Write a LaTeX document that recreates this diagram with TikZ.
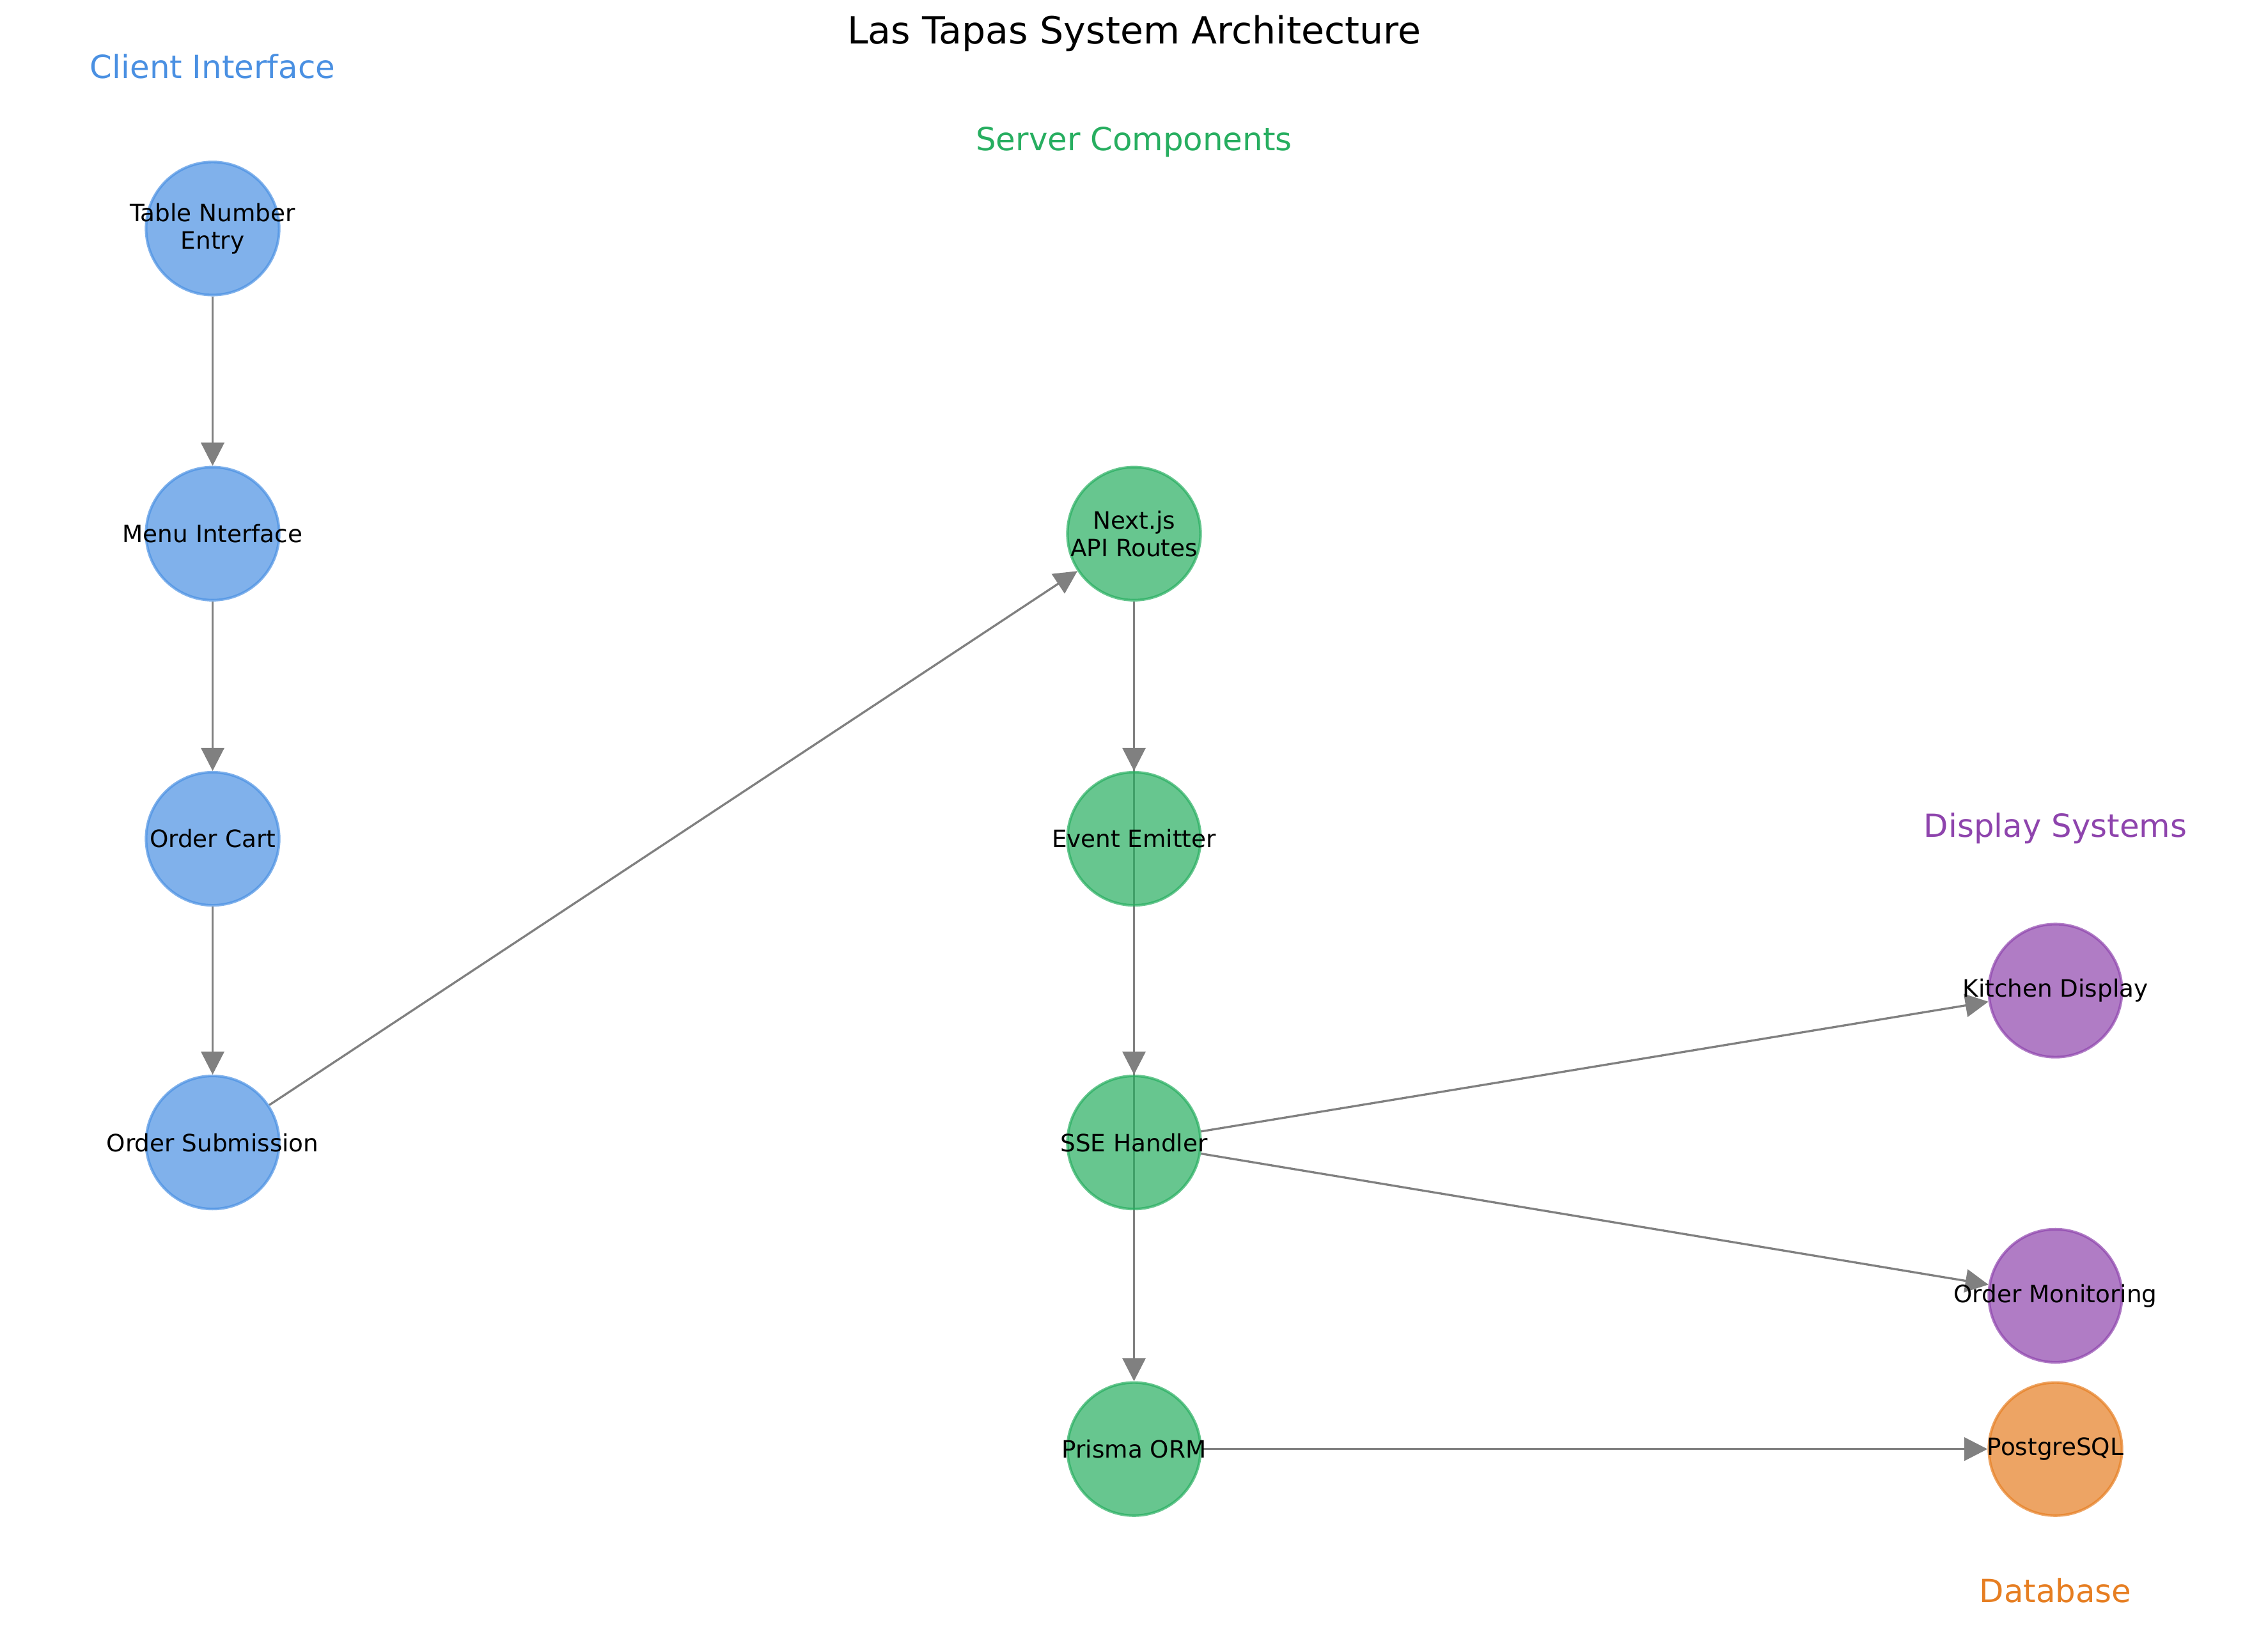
\documentclass[tikz,border=0pt]{standalone}
\usepackage{fontspec}
\setmainfont{DejaVu Sans}
\usetikzlibrary{arrows.meta,backgrounds}
\definecolor{clientblue}{HTML}{4A90E2}
\definecolor{servergreen}{HTML}{27AE60}
\definecolor{displaypurple}{HTML}{8E44AD}
\definecolor{dborange}{HTML}{E67E22}

\tikzset{
  comp/.style={circle, minimum size=1.762cm, inner sep=0pt, line width=1pt,
    fill opacity=0.7, draw opacity=0.7},
  nodetext/.style={font=\fontsize{9}{10.3}\selectfont, align=center, text opacity=1},
  client/.style={comp, fill=clientblue, draw=clientblue},
  server/.style={comp, fill=servergreen, draw=servergreen},
  screen/.style={comp, fill=displaypurple, draw=displaypurple},
  store/.style={comp, fill=dborange, draw=dborange},
  flow/.style={draw=gray, line width=0.8pt, -{Triangle[length=8.7pt,width=8.7pt]}},
  grouplabel/.style={font=\fontsize{12}{14}\selectfont}
}

\begin{document}
\begin{tikzpicture}[x=0.01915cm, y=-0.01915cm]
\useasboundingbox (0,0) rectangle (1568,1125);
% titles
\node[font=\fontsize{14.1}{16}\selectfont] (title) at (784,23) {Las Tapas System Architecture};
\node[grouplabel, text=clientblue] (clientlbl) at (147,46) {Client Interface};
\node[grouplabel, text=servergreen] (serverlbl) at (784,98) {Server Components};
\node[grouplabel, text=displaypurple] (displaylbl) at (1421,573) {Display Systems};
\node[grouplabel, text=dborange] (dblbl) at (1421,1100) {Database};
% client
\node[client, label={[nodetext]center:Table Number\\Entry}] (table) at (147,158) {};
\node[client, label={[nodetext]center:Menu Interface}] (menu) at (147,369) {};
\node[client, label={[nodetext]center:Order Cart}] (cart) at (147,580) {};
\node[client, label={[nodetext]center:Order Submission}] (submit) at (147,790) {};
% server
\node[server, label={[nodetext]center:Next.js\\API Routes}] (api) at (784,369) {};
\node[server, label={[nodetext]center:Event Emitter}] (emitter) at (784,580) {};
\node[server, label={[nodetext]center:SSE Handler}] (sse) at (784,790) {};
\node[server, label={[nodetext]center:Prisma ORM}] (prisma) at (784,1002) {};
% displays and database
\node[screen, label={[nodetext]center:Kitchen Display}] (kitchen) at (1421,685) {};
\node[screen, label={[nodetext]center:Order Monitoring}] (monitor) at (1421,896) {};
\node[store, label={[nodetext]center:PostgreSQL}] (postgres) at (1421,1002) {};
% flows
\begin{scope}[on background layer]
\draw[flow] (table) -- (menu);
\draw[flow] (menu) -- (cart);
\draw[flow] (cart) -- (submit);
\draw[flow] (submit) -- (api);
\draw[flow] (api) -- (emitter);
\draw[flow] (emitter) -- (sse);
\draw[flow] (api) -- (prisma);
\draw[flow] (sse) -- (kitchen);
\draw[flow] (sse) -- (monitor);
\draw[flow] (prisma) -- (postgres);
\end{scope}
\end{tikzpicture}
\end{document}
